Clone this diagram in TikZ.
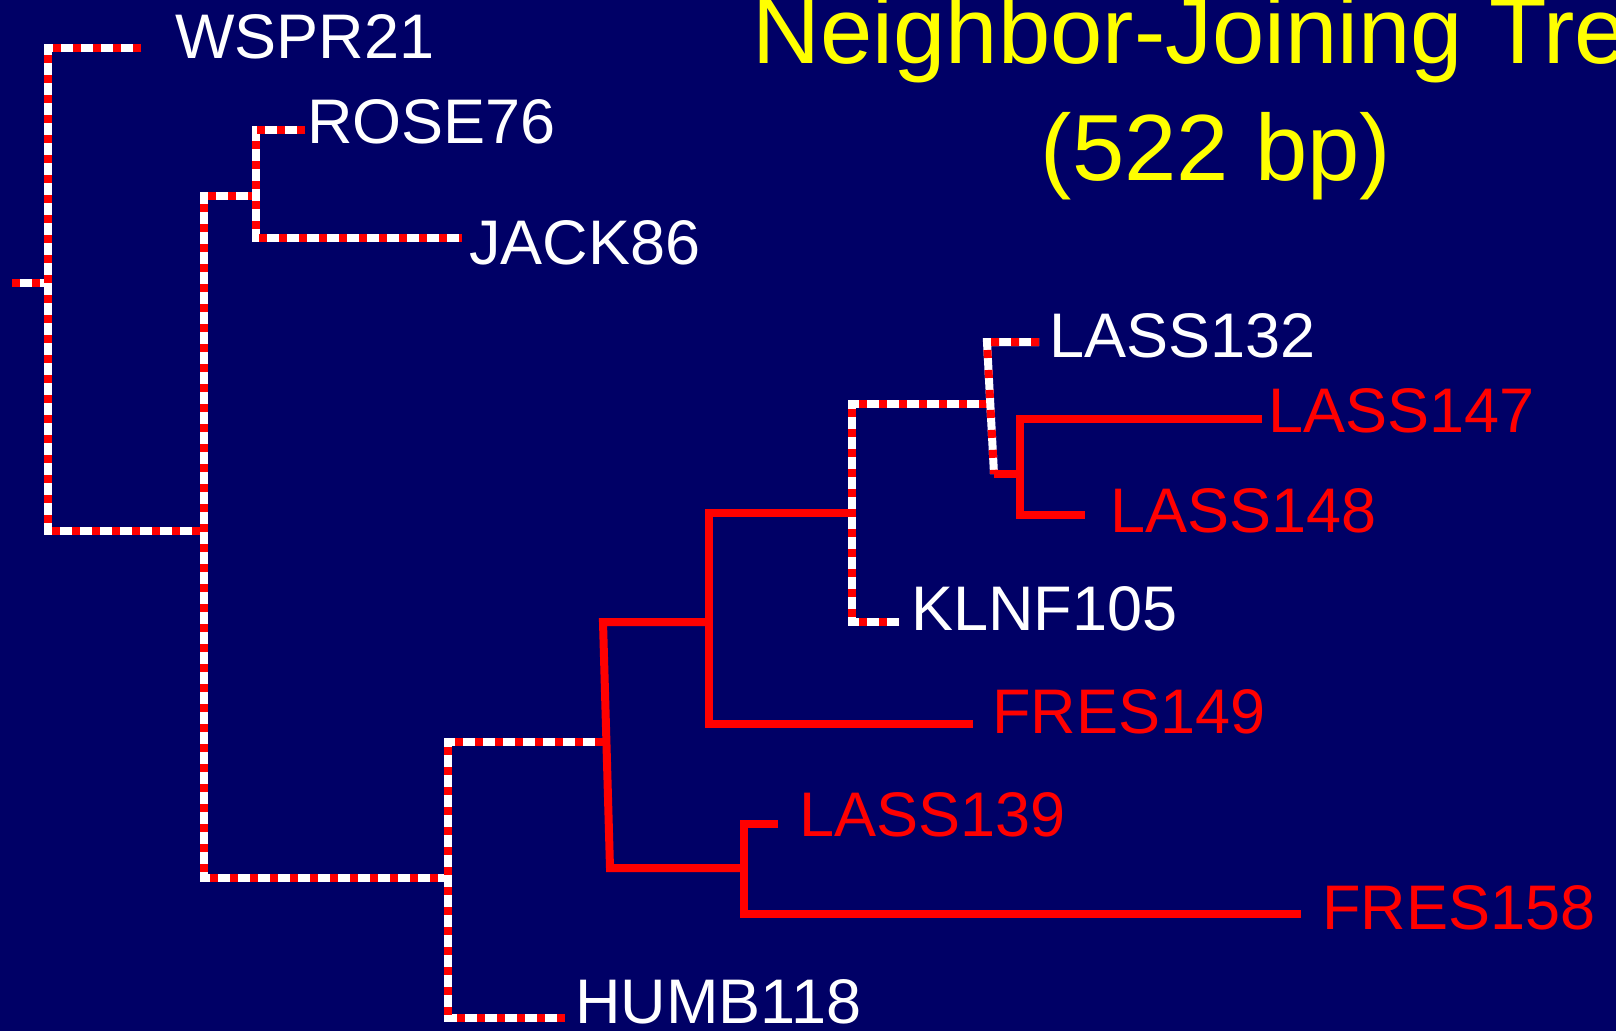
\documentclass[tikz,border=0pt]{standalone}
\usepackage{fontspec}
\setmainfont{Liberation Sans}
\usepackage{xcolor}
\usetikzlibrary{positioning}
\definecolor{navy}{RGB}{0,0,102}
\definecolor{ttlyellow}{RGB}{255,255,0}

\begin{document}
\begin{tikzpicture}[
  x=1pt, y=-1pt,
  stripe/.style={draw=red, line width=8pt, dash pattern=on 8pt off 12pt,
    preaction={draw=white, solid, line width=8pt}},
  solidbr/.style={draw=red, line width=8pt},
  lab/.style={anchor=base west, inner sep=0pt, font=\fontsize{63}{70}\selectfont, text=white},
  redlab/.style={lab, text=red},
  ttl/.style={anchor=base, inner sep=0pt, font=\fontsize{94}{110}\selectfont, text=ttlyellow},
]
  \clip (0,0) rectangle (1616,1031);
  \fill[navy] (0,0) rectangle (1616,1031);

  % title
  \node[ttl] (ttl1) at (1216,63) {Neighbor-Joining Tree};
  \node[ttl] (ttl2) at (1216,180) {(522 bp)};

  % tips
  \coordinate (tWSPR) at (141,48);
  \coordinate (tROSE) at (305,130);
  \coordinate (tJACK) at (462,238);
  \coordinate (tHUMB) at (565,1018);
  \coordinate (tKLNF) at (899,622);
  \coordinate (tL132) at (1039,342);
  \coordinate (tL147) at (1262,419);
  \coordinate (tL148) at (1085,515);
  \coordinate (tF149) at (973,724);
  \coordinate (tL139) at (778,824);
  \coordinate (tF158) at (1301,914);

  % inner nodes
  \coordinate (root) at (12,283);
  \coordinate (nA) at (48,283);
  \coordinate (nB) at (204,531);
  \coordinate (nC) at (256,196);
  \coordinate (nD) at (448,878);
  \coordinate (nE) at (603,742);
  \coordinate (nF) at (709,622);
  \coordinate (nG) at (852,513);
  \coordinate (nH) at (987,404);
  \coordinate (nI) at (994,474);
  \coordinate (nJ) at (1020,474);
  \coordinate (nK) at (744,868);

  % striped branches
  \draw[stripe] (root) -- (nA);
  \draw[stripe] (tWSPR) -- (nA |- tWSPR) -- (nA |- nB) -- (nB);
  \draw[stripe] (nC) -- (nB |- nC) -- (nB |- nD) -- (nD);
  \draw[stripe] (tROSE) -- (nC |- tROSE) -- (nC |- tJACK) -- (tJACK);
  \draw[stripe] (nE) -- (nD |- nE) -- (nD |- tHUMB) -- (tHUMB);
  \draw[stripe] (nH) -- (nG |- nH) -- (nG |- tKLNF) -- (tKLNF);
  \draw[stripe] (tL132) -- (nH |- tL132) -- (nI);

  % solid branches
  \draw[solidbr] (nF) -- (nE |- nF) -- (610,868) -- (nK);
  \draw[solidbr] (nG) -- (nF |- nG) -- (nF |- tF149) -- (tF149);
  \draw[solidbr] (nI) -- (nJ);
  \draw[solidbr] (tL147) -- (nJ |- tL147) -- (nJ |- tL148) -- (tL148);
  \draw[solidbr] (tL139) -- (nK |- tL139) -- (nK |- tF158) -- (tF158);

  % labels
  \node[lab] (lWSPR) at (175,58) {WSPR21};
  \node[lab] (lROSE) at (307,143) {ROSE76};
  \node[lab] (lJACK) at (469,264) {JACK86};
  \node[lab] (lL132) at (1049,357) {LASS132};
  \node[redlab] (lL147) at (1268,432) {LASS147};
  \node[redlab] (lL148) at (1110,532) {LASS148};
  \node[lab] (lKLNF) at (911,630) {KLNF105};
  \node[redlab] (lF149) at (992,733) {FRES149};
  \node[redlab] (lL139) at (799,836) {LASS139};
  \node[redlab] (lF158) at (1322,929) {FRES158};
  \node[lab] (lHUMB) at (575,1023) {HUMB118};
\end{tikzpicture}
\end{document}
